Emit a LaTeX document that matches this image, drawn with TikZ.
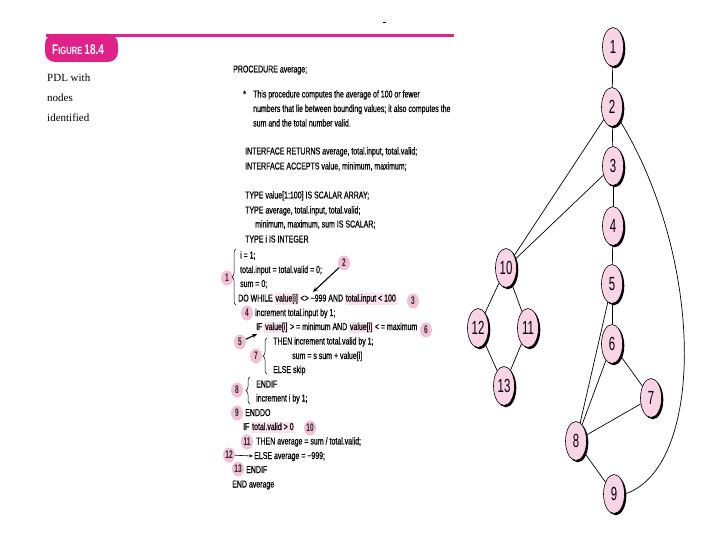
\documentclass[tikz,border=0pt]{standalone}
\usepackage{fontspec}
\setmainfont{Liberation Serif}
\newfontfamily\codefont[FakeStretch=0.70,FakeBold=0.6]{Liberation Sans}
\newfontfamily\numfont[FakeStretch=0.6]{Liberation Sans}
\newfontfamily\figfont[FakeStretch=0.72]{Liberation Sans}
\usetikzlibrary{shapes.geometric,shadows,decorations.pathreplacing,arrows.meta}
\definecolor{magentaF}{HTML}{E0218A}
\definecolor{nodepink}{HTML}{F9D3E6}
\definecolor{hlpink}{HTML}{FBE1EC}
\definecolor{labpink}{HTML}{F3BFD5}
\newcommand{\hlt}[1]{{\setlength{\fboxsep}{0.8pt}\colorbox{hlpink}{\rule[-2.5pt]{0pt}{10pt}#1}}}
\tikzset{
  code/.style={anchor=base west, inner sep=0pt, font=\codefont\fontsize{10}{12}\selectfont},
  capt/.style={anchor=base west, inner sep=0pt, font=\fontsize{11}{12}\selectfont},
  lab/.style={ellipse, fill=labpink, inner sep=0.6pt, minimum width=12pt, minimum height=15pt,
    font=\numfont\bfseries\fontsize{11}{11}\selectfont, text=black!85},
  gnode/.style={ellipse, draw=black, line width=0.6pt, fill=nodepink, minimum width=21pt,
    minimum height=39pt, inner sep=0pt, font=\numfont\fontsize{19}{19}\selectfont,
    drop shadow={shadow xshift=1.8pt, shadow yshift=-1.8pt, fill=black, opacity=1}},
  gedge/.style={line width=0.7pt},
  ptr/.style={-{Stealth[length=5pt,width=4pt]}, line width=1.1pt},
  bracestyle/.style={decorate, decoration={brace, amplitude=4pt}, line width=0.5pt}
}
\begin{document}
\begin{tikzpicture}[x=1pt, y=-1pt]
\useasboundingbox[fill=white] (0,0) rectangle (720,540);
% header
\draw[magentaF, line width=3pt] (46,35.5) -- (454,35.5);
\fill[magentaF, rounded corners=10pt] (45,34) rectangle (118,62);
\node[anchor=base west, inner sep=0pt, text=white, font=\figfont\bfseries] (fig) at (52,55)
  {\fontsize{14}{14}\selectfont F\fontsize{10.5}{10.5}\selectfont IGURE \fontsize{14}{14}\selectfont 18.4};
\draw[line width=0.6pt] (383,22) -- (386,22);
% caption
\node[capt] (c1) at (47,82) {PDL with};
\node[capt] (c2) at (47,102) {nodes};
\node[capt] (c3) at (47,122) {identified};
% code
\node[code] (p0) at (233,72.5) {PROCEDURE average;};
\node[code] (st) at (243,97.5) {*};
\node[code] (p1) at (253,97.5) {This procedure computes the average of 100 or fewer};
\node[code] (p2) at (253,112) {numbers that lie between bounding values; it also computes the};
\node[code] (p3) at (253,126.5) {sum and the total number valid.};
\node[code] (p4) at (245,154.5) {INTERFACE RETURNS average, total.input, total.valid;};
\node[code] (p5) at (245,169.5) {INTERFACE ACCEPTS value, minimum, maximum;};
\node[code] (p6) at (245,198.5) {TYPE value[1:100] IS SCALAR ARRAY;};
\node[code] (p7) at (245,213.5) {TYPE average, total.input, total.valid;};
\node[code] (p8) at (255,227.5) {minimum, maximum, sum IS SCALAR;};
\node[code] (p9) at (245,242.5) {TYPE i IS INTEGER};
\node[code] (q1) at (240,258.5) {i = 1;};
\node[code] (q2) at (240,273) {total.input = total.valid = 0;};
\node[code] (q3) at (240,287) {sum = 0;};
\node[code] (q4) at (238,301.5) {DO WHILE \hlt{value[i]} <> −999 AND \hlt{total.input < 100}};
\node[code] (q5) at (255,316) {increment total.input by 1;};
\node[code] (q6) at (256,330) {IF \hlt{value[i]} > = minimum AND \hlt{value[i]} < = maximum};
\node[code] (q7) at (273,344.5) {THEN increment total.valid by 1;};
\node[code] (q8) at (292,359) {sum = s sum + value[i]};
\node[code] (q9) at (273,373) {ELSE skip};
\node[code] (r1) at (256,387.5) {ENDIF};
\node[code] (r2) at (256,401.5) {increment i by 1;};
\node[code] (r3) at (245,416) {ENDDO};
\node[code] (r4) at (243,430) {IF \hlt{total.valid > 0}};
\node[code] (r5) at (256,444.5) {THEN average = sum / total.valid;};
\node[code] (r6) at (254,459) {ELSE average = −999;};
\node[code] (r7) at (246,473) {ENDIF};
\node[code] (r8) at (232,487.5) {END average};
% labels
\node[lab] (l1) at (227,278) {1};
\node[lab] (l2) at (344,263) {2};
\node[lab] (l3) at (413,301) {3};
\node[lab] (l4) at (247,313) {4};
\node[lab] (l5) at (240,342) {5};
\node[lab] (l6) at (426,330) {6};
\node[lab] (l7) at (256,356) {7};
\node[lab] (l8) at (237,390) {8};
\node[lab] (l9) at (237,413) {9};
\node[lab] (l10) at (310,428) {10};
\node[lab] (l11) at (247,442) {11};
\node[lab] (l12) at (229,455) {12};
\node[lab] (l13) at (238,469) {13};
% pointers
\coordinate (a2) at (313,292);
\coordinate (a5) at (257,334);
\coordinate (a12) at (253,456);
\draw[ptr] (l2) -- (a2);
\draw[ptr] (l5) -- (a5);
\draw[-{Stealth[length=4pt,width=3pt]}, line width=0.6pt] (l12) -- (a12);
% braces
\draw[bracestyle] (236,305) -- (236,249);
\draw[bracestyle] (267,374) -- (267,338);
\draw[bracestyle] (250,404) -- (250,377);
% flow graph
\node[gnode] (n1) at (613,47) {1};
\node[gnode] (n2) at (612,107) {2};
\node[gnode] (n3) at (613,166) {3};
\node[gnode] (n4) at (613,226) {4};
\node[gnode] (n5) at (612,284) {5};
\node[gnode] (n6) at (612,344) {6};
\node[gnode] (n7) at (651,398) {7};
\node[gnode] (n8) at (576,441) {8};
\node[gnode] (n9) at (614,494) {9};
\node[gnode] (n10) at (506,268) {10};
\node[gnode] (n11) at (528,328) {11};
\node[gnode] (n12) at (478,328) {12};
\node[gnode] (n13) at (504,386) {13};
\draw[gedge] (n1) -- (n2);
\draw[gedge] (n2) -- (n3);
\draw[gedge] (n3) -- (n4);
\draw[gedge] (n4) -- (n5);
\draw[gedge] (n2) -- (n10);
\draw[gedge] (n3) -- (n10);
\draw[gedge] (n10) -- (n12);
\draw[gedge] (n10) -- (n11);
\draw[gedge] (n12) -- (n13);
\draw[gedge] (n11) -- (n13);
\draw[gedge] (n5) -- (n6);
\draw[gedge] (n5) -- (n8);
\draw[gedge] (n6) -- (n8);
\draw[gedge] (n6) -- (n7);
\draw[gedge] (n7) -- (n8);
\draw[gedge] (n8) -- (n9);
\draw[gedge] (n9.east) .. controls (705,468) and (705,260) .. (n2.-60);
\end{tikzpicture}
\end{document}
